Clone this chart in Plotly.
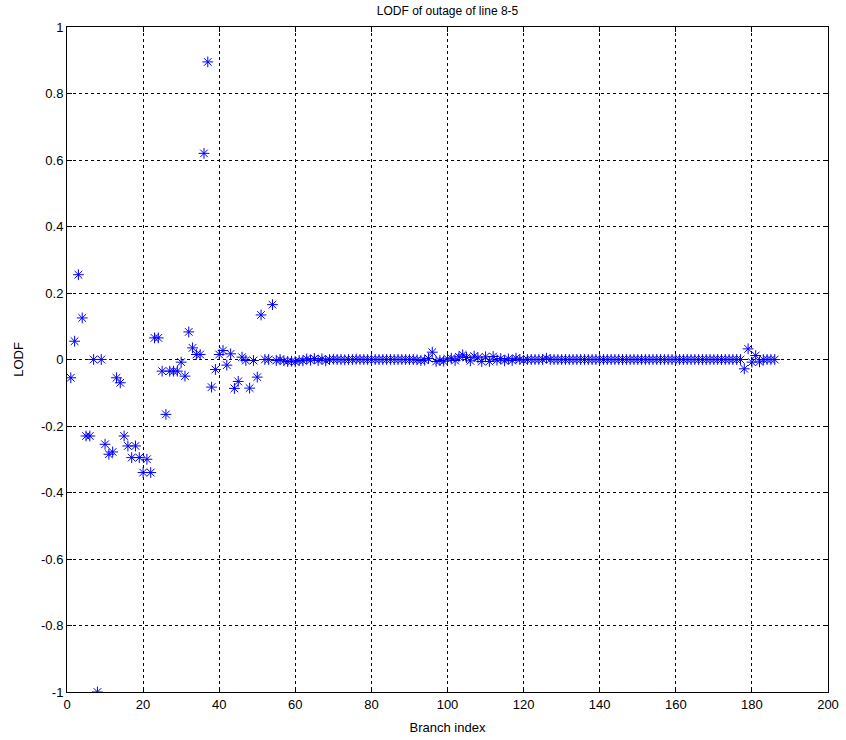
import plotly.graph_objects as go

# Line outage distribution factors for the outage of line 8-5, per branch
lodf_first = [
    -0.055, 0.055, 0.255, 0.125, -0.23, -0.23, 0.0, -1.0, 0.0, -0.255,
    -0.285, -0.278, -0.055, -0.07, -0.23, -0.26, -0.295, -0.26, -0.295, -0.34,
    -0.30, -0.34, 0.065, 0.065, -0.035, -0.165, -0.035, -0.035, -0.035, -0.008,
    -0.05, 0.083, 0.035, 0.015, 0.015, 0.62, 0.895, -0.083, -0.03, 0.015,
    0.027, -0.017, 0.017, -0.087, -0.066, 0.007, -0.003, -0.086, -0.003, -0.053,
    0.134, 0.0, 0.0, 0.165,
]
lodf_rest = [
    -0.003, 0.0, -0.004, -0.006, -0.005, -0.007, -0.003, -0.004, 0.002, -0.002,   # 55-64
    0.003, -0.003, 0.002, -0.004, 0.0, 0.001, 0.0, 0.0, -0.001, 0.0,               # 65-74
    0.0, 0.001, 0.0, 0.0, 0.0, 0.0, 0.0, 0.0, 0.0, 0.0,                            # 75-84
    0.0, 0.0, 0.0, 0.0, 0.0, 0.0, 0.0, -0.001, -0.003, -0.002,                     # 85-94
    0.003, 0.022, -0.006, -0.003, -0.005, 0.002, 0.004, -0.003, 0.008, 0.014,      # 95-104
    0.006, -0.004, 0.010, 0.005, -0.006, 0.008, -0.006, 0.009, -0.002, 0.003,      # 105-114
    -0.004, 0.002, -0.003, 0.004, 0.0, -0.002, 0.0, 0.0, 0.0, 0.0,                 # 115-124
    0.0, 0.004, 0.0, 0.0, 0.0, 0.0, 0.0, 0.0, 0.0, 0.0,                            # 125-134
    0.0, 0.0, 0.0, 0.0, 0.0, 0.0, 0.0, 0.0, 0.0, 0.0,                              # 135-144
    0.0, 0.0, 0.0, 0.0, 0.0, 0.0, 0.0, 0.0, 0.0, 0.0,                              # 145-154
    0.0, 0.0, 0.0, 0.0, 0.0, 0.0, 0.0, 0.0, 0.0, 0.0,                              # 155-164
    0.0, 0.0, 0.0, 0.0, 0.0, 0.0, 0.0, 0.0, 0.0, 0.0,                              # 165-174
    0.0, 0.0, 0.0, -0.028, 0.032, -0.008, 0.012, -0.007, 0.0, 0.0,                 # 175-184
    0.0, 0.0,                                                                       # 185-186
]
lodf = lodf_first + lodf_rest
branch = list(range(1, len(lodf) + 1))

x_ticks = [0, 20, 40, 60, 80, 100, 120, 140, 160, 180, 200]
y_ticks = [-1, -0.8, -0.6, -0.4, -0.2, 0, 0.2, 0.4, 0.6, 0.8, 1]
y_tick_text = ["-1", "-0.8", "-0.6", "-0.4", "-0.2", "0", "0.2", "0.4", "0.6", "0.8", "1"]

font = dict(family="Liberation Sans, Arial, sans-serif", size=13, color="black")

fig = go.Figure(
    go.Scatter(
        x=branch,
        y=lodf,
        mode="markers",
        marker=dict(symbol="asterisk-open", size=9, color="#0000ff",
                    line=dict(color="#0000ff", width=1)),
        showlegend=False,
    )
)

axis_common = dict(
    showline=True, mirror="ticks", linecolor="black", linewidth=1,
    ticks="inside", ticklen=5, tickcolor="black",
    showgrid=True, gridcolor="black", gridwidth=1, griddash="3px,3px",
    zeroline=False, tickfont=font, automargin=False,
)

fig.update_xaxes(range=[0, 200], tickvals=x_ticks,
                 title=dict(text="Branch index", font=font, standoff=12),
                 **axis_common)
fig.update_yaxes(range=[-1, 1], tickvals=y_ticks, ticktext=y_tick_text,
                 title=dict(text="LODF", font=font, standoff=14),
                 **axis_common)

fig.update_layout(
    width=846, height=740,
    margin=dict(l=67, r=18, t=27, b=48),
    paper_bgcolor="white", plot_bgcolor="white",
    title=dict(text="LODF of outage of line 8-5", font=dict(family=font["family"], size=12, color="black"),
               x=0.529, xanchor="center", yref="container", y=0.986, yanchor="middle"),
)

fig.write_html("out.html")
